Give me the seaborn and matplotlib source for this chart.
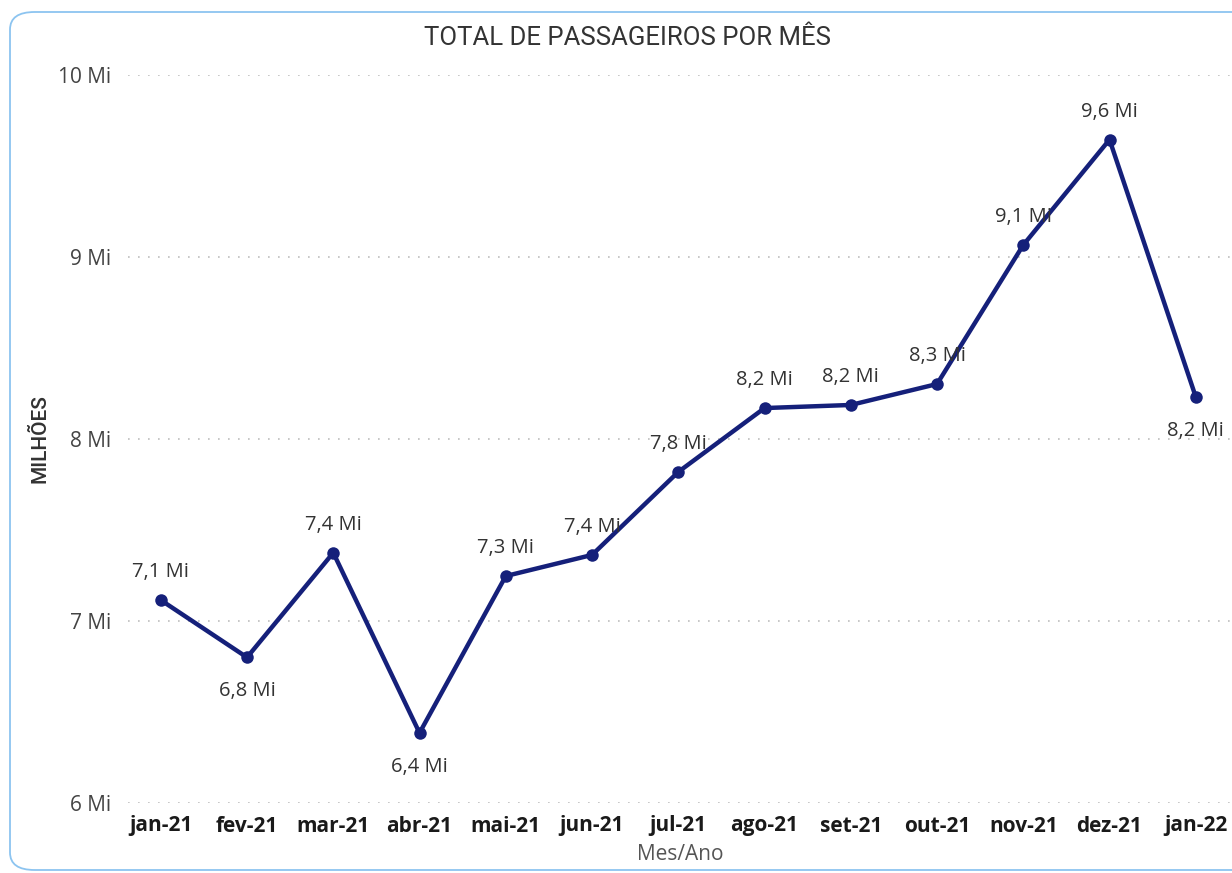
import pandas as pd
import matplotlib.pyplot as plt
import seaborn as sns
from matplotlib.patches import FancyBboxPatch

# =========================
# Dados
# =========================
meses = ["jan-21", "fev-21", "mar-21", "abr-21", "mai-21", "jun-21", "jul-21",
         "ago-21", "set-21", "out-21", "nov-21", "dez-21", "jan-22"]
passageiros = [7.115, 6.80, 7.375, 6.385, 7.247, 7.363, 7.819,
               8.170, 8.187, 8.302, 9.066, 9.645, 8.231]
rotulos = ["7,1 Mi", "6,8 Mi", "7,4 Mi", "6,4 Mi", "7,3 Mi", "7,4 Mi", "7,8 Mi",
           "8,2 Mi", "8,2 Mi", "8,3 Mi", "9,1 Mi", "9,6 Mi", "8,2 Mi"]
abaixo = [False, True, False, True, False, False, False,
          False, False, False, False, False, True]
yticks = [6, 7, 8, 9, 10]

df = pd.DataFrame({"mes": meses, "valor": passageiros})
df["pos"] = range(len(df))

sns.set_style("white")
plt.rcParams["font.family"] = ["Open Sans", "DejaVu Sans"]

fig = plt.figure(figsize=(12.32, 8.73), dpi=100)

# moldura arredondada
frame = FancyBboxPatch((10 / 1232, 3 / 873), 1.2, 858 / 873,
                       boxstyle="round,pad=0,rounding_size=0.02",
                       transform=fig.transFigure, fill=False,
                       edgecolor="#8cc4f0", linewidth=1.3)
fig.patches.append(frame)

ax = fig.add_axes([128 / 1232, 1 - 803 / 873, 1 - 128 / 1232, (803 - 75) / 873])
ax.set_facecolor("none")

sns.lineplot(data=df, x="pos", y="valor", color="#15207a", linewidth=3.2,
             marker="o", markersize=9, markeredgewidth=0, ax=ax)

for i, (v, r, b) in enumerate(zip(passageiros, rotulos, abaixo)):
    dy = -34 if b else 28
    ax.annotate(r, (i, v), xytext=(0, dy), textcoords="offset pixels",
                ha="center", va="center", fontsize=14.5, color="#333333")

ax.set_xlim(-0.38, 12.42)
ax.set_ylim(6, 10)
ax.set_xticks(range(len(meses)))
ax.set_xticklabels(meses, fontsize=15, fontweight="bold", color="#1a1a1a")
ax.set_yticks(yticks)
ax.set_yticklabels([f"{t} Mi" for t in yticks], fontsize=15, color="#444444")
ax.tick_params(axis="x", length=0, pad=9)
ax.tick_params(axis="y", length=0, pad=12)
ax.grid(axis="y", linestyle=(0, (1, 5)), color="#bdbdbd", linewidth=1.2)
ax.set_axisbelow(True)
for s in ax.spines.values():
    s.set_visible(False)

ax.set_xlabel("Mes/Ano", fontsize=15, color="#555555")
ax.xaxis.set_label_coords(0.5, -0.057)
ax.set_ylabel("MILHÕES", fontsize=15, color="#333333", fontweight="medium",
              family=["Roboto", "DejaVu Sans"])
ax.yaxis.set_label_coords(-0.071, 0.5)
fig.text(628 / 1232, 1 - 38 / 873, "TOTAL DE PASSAGEIROS POR MÊS",
         ha="center", va="center", fontsize=18.5, color="#333333",
         family=["Roboto", "DejaVu Sans"])

plt.savefig("out.png", dpi=100)
plt.close()
